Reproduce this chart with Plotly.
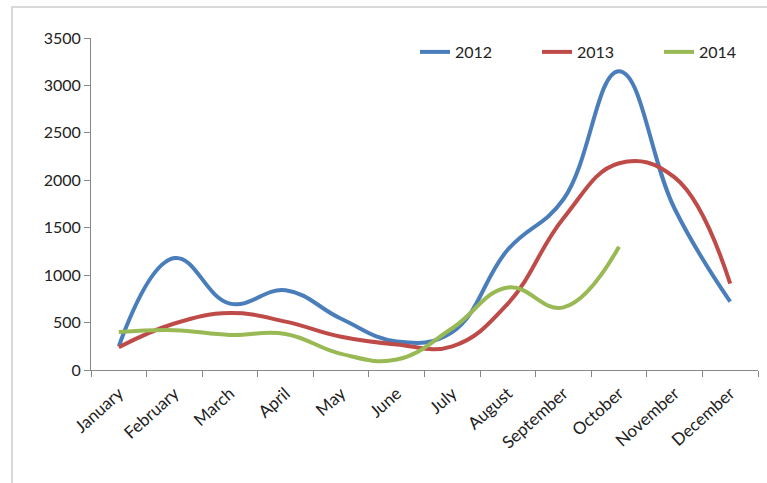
import plotly.graph_objects as go

months = ["January", "February", "March", "April", "May", "June", "July",
          "August", "September", "October", "November", "December"]
y2012 = [250, 1180, 700, 840, 540, 300, 400, 1270, 1800, 3150, 1700, 720]
y2013 = [240, 490, 600, 510, 350, 270, 250, 700, 1600, 2180, 2030, 910]
y2014 = [400, 420, 370, 380, 170, 110, 440, 870, 660, 1300, None, None]

series = [("2012", y2012, "#4A7EBB"), ("2013", y2013, "#BE4B48"), ("2014", y2014, "#98B954")]

FONT = "Lato"
W, H = 767, 483
L, R, T, B = 91, 9, 38, 113
pw, ph = W - L - R, H - T - B

def px2x(p):
    return (p - L) / pw

def py2y(p):
    return (H - B - p) / ph

fig = go.Figure()
legend_names = ["legend", "legend2", "legend3"]
legend_left = [415, 537, 659]
for (name, vals, col), lg in zip(series, legend_names):
    fig.add_trace(go.Scatter(x=months, y=vals, name=name, mode="lines",
                             line=dict(color=col, width=4, shape="spline", smoothing=1.2),
                             connectgaps=False, legend=lg))

legend_common = dict(orientation="h", xanchor="left", yanchor="middle",
                     bgcolor="rgba(0,0,0,0)",
                     font=dict(family=FONT, size=16, color="#222222"))
leg_layout = {}
for lg, lx in zip(legend_names, legend_left):
    leg_layout[lg] = dict(x=px2x(lx), y=py2y(52), **legend_common)

fig.update_layout(
    width=W, height=H,
    margin=dict(l=L, r=R, t=T, b=B, pad=0, autoexpand=False),
    paper_bgcolor="white", plot_bgcolor="white",
    font=dict(family=FONT, size=16, color="#222222"),
    showlegend=True,
    xaxis=dict(type="category", showgrid=False, zeroline=False, showline=True,
               linecolor="#888888", linewidth=1, ticks="outside", ticklen=6,
               tickcolor="#888888", tickson="boundaries", tickangle=-42,
               ticklabelstandoff=6,
               tickfont=dict(family=FONT, size=17, color="#222222"),
               range=[-0.5, 11.5], automargin=False),
    yaxis=dict(range=[0, 3500], dtick=500, tick0=0, showgrid=False, zeroline=False,
               showline=True, linecolor="#888888", linewidth=1, ticks="outside",
               ticklen=6, tickcolor="#888888", automargin=False,
               tickfont=dict(family=FONT, size=16, color="#222222")),
    shapes=[dict(type="rect", xref="paper", yref="paper",
                 x0=px2x(12), y0=py2y(520), x1=px2x(800), y1=py2y(7),
                 line=dict(color="#D9D9D9", width=2), layer="below")],
    **leg_layout,
)

fig.write_html("out.html")
